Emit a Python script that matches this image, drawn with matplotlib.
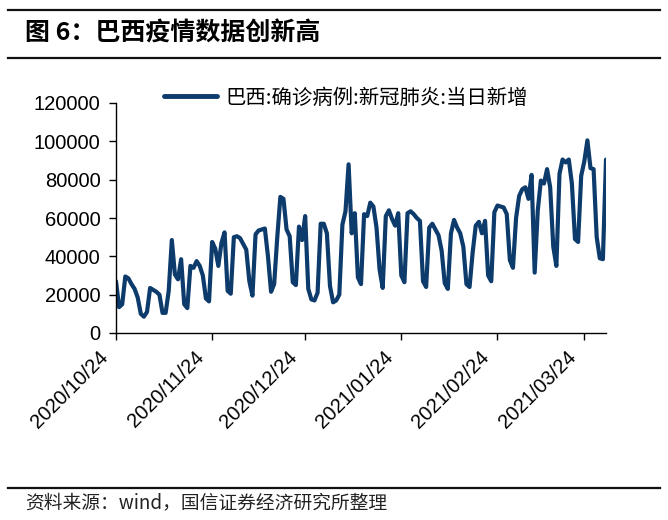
import numpy as np
import pandas as pd
import matplotlib
matplotlib.use("Agg")
import matplotlib.pyplot as plt
import matplotlib.transforms as mtransforms
from matplotlib.lines import Line2D

plt.rcParams["font.family"] = ["Liberation Sans", "Noto Sans CJK SC", "DejaVu Sans"]

# Brazil daily new confirmed COVID-19 cases
start_date = "2020-10-24"
new_cases = [
    27000, 13500, 15000, 29500, 28500, 25500, 23000, 18500, 10000, 8500,
    11000, 23500, 22500, 21500, 20000, 10500, 10500, 22000, 48500, 30500,
    28000, 38500, 15000, 13000, 35000, 34000, 37500, 35000, 30000, 18000,
    16500, 47500, 44000, 35000, 47000, 52500, 22000, 20500, 50000, 50500,
    49500, 46500, 43500, 27000, 19500, 51500, 53500, 54000, 54500, 40000,
    21500, 25500, 50000, 71000, 70000, 54000, 50500, 26500, 25000, 55500,
    48500, 61000, 23000, 17500, 17000, 21000, 57000, 57000, 52000, 24500,
    16000, 17000, 20000, 56500, 63500, 88000, 52000, 62500, 29000, 25500,
    62000, 61000, 68000, 66000, 55000, 33000, 23500, 61000, 64000, 59500,
    56000, 62500, 30000, 26500, 62500, 63500, 62000, 60000, 58500, 27000,
    24000, 55000, 57000, 54000, 51000, 43000, 26000, 23000, 52000, 59000,
    55000, 52000, 45000, 25500, 24000, 42000, 56000, 58000, 52000, 58500,
    30000, 27000, 63000, 66500, 66000, 65500, 62000, 38000, 34000, 60000,
    71500, 75000, 76000, 70000, 82500, 31500, 64000, 79500, 78000, 85500,
    76000, 45000, 35000, 83000, 90500, 89000, 90500, 78000, 49000, 47500,
    82000, 89500, 100500, 86000, 85500, 50000, 39000, 38500, 90500,
]
dates = pd.date_range(start_date, periods=len(new_cases), freq="D")

tick_dates = pd.to_datetime(["2020-10-24", "2020-11-24", "2020-12-24",
                             "2021-01-24", "2021-02-24", "2021-03-24"])
tick_labels = ["2020/10/24", "2020/11/24", "2020/12/24",
               "2021/01/24", "2021/02/24", "2021/03/24"]
y_ticks = [0, 20000, 40000, 60000, 80000, 100000, 120000]

series_label = "巴西:确诊病例:新冠肺炎:当日新增"
title = "图 6：巴西疫情数据创新高"
source = "资料来源：wind，国信证券经济研究所整理"

LINE_COLOR = "#0c3b6c"

fig = plt.figure(figsize=(6.68, 5.2), dpi=100)
ax = fig.add_axes([116 / 668, 1 - 333 / 520, (606 - 116) / 668, (333 - 103) / 520])

ax.plot(dates, new_cases, color=LINE_COLOR, lw=3.0, solid_joinstyle="round",
        solid_capstyle="round", label=series_label)

ax.set_xlim(dates[0], dates[-1])
ax.set_ylim(0, 120000)
ax.set_yticks(y_ticks)
ax.set_yticklabels([str(v) for v in y_ticks])
ax.set_xticks(tick_dates)
ax.set_xticklabels([])

# Excel-style rotated date labels, sitting a little left of their tick
shift = mtransforms.ScaledTranslation(-18 / 100, -14 / 100, fig.dpi_scale_trans)
for d, lab in zip(tick_dates, tick_labels):
    ax.text(d, 0, lab, transform=ax.get_xaxis_transform() + shift,
            rotation=45, ha="right", va="top", rotation_mode="anchor",
            fontsize=14.5, color="#000000")

for side in ("top", "right"):
    ax.spines[side].set_visible(False)
for side in ("left", "bottom"):
    ax.spines[side].set_color("#000000")
    ax.spines[side].set_linewidth(1.0)
ax.tick_params(axis="both", direction="out", length=5, width=1.0,
               labelsize=14.5, colors="#000000")
ax.tick_params(axis="y", pad=6)

leg = ax.legend(loc="center left", bbox_to_anchor=(164 / 668, 1 - 98 / 520),
                bbox_transform=fig.transFigure, frameon=False, handlelength=2.6,
                handletextpad=0.4, borderaxespad=0, borderpad=0,
                prop={"family": "Noto Sans CJK SC", "size": 14.7})
leg.get_lines()[0].set_linewidth(3.5)

# header / footer rules
for y in (10, 58, 488):
    fig.add_artist(Line2D([8 / 668, 660 / 668], [1 - y / 520, 1 - y / 520],
                          color="#111111", lw=1.6, transform=fig.transFigure))

fig.text(25 / 668, 1 - 34 / 520, title, fontsize=18, fontweight="bold",
         family=["Noto Sans CJK SC", "DejaVu Sans"], va="center", ha="left")
fig.text(25 / 668, 1 - 503 / 520, source, fontsize=13.5,
         family=["Noto Sans CJK SC", "DejaVu Sans"], va="center", ha="left",
         color="#222222")

fig.savefig("out.png", dpi=100, facecolor="white")
